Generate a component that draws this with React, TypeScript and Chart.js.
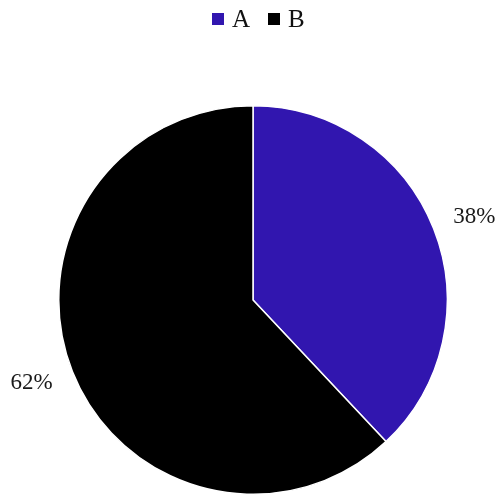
import React, { useEffect, useRef } from "react";
import { Chart, registerables } from "chart.js";

Chart.register(...registerables);

const categories = ["A", "B"];
const values = [38, 62];
const colors = ["#3116af", "#000000"];
const FONT = "'Liberation Serif', 'Times New Roman', Times, serif";

const outsideLabels = {
  id: "outsideLabels",
  afterDatasetsDraw(chart: any) {
    const ctx = chart.ctx;
    const meta = chart.getDatasetMeta(0);
    const total = values.reduce((a, b) => a + b, 0);
    ctx.save();
    ctx.font = `23px ${FONT}`;
    ctx.fillStyle = "#1a1a1a";
    ctx.textAlign = "center";
    ctx.textBaseline = "middle";
    meta.data.forEach((arc: any, i: number) => {
      const mid = (arc.startAngle + arc.endAngle) / 2 + 0.02;
      const r = arc.outerRadius + 42;
      const x = arc.x + Math.cos(mid) * r;
      const y = arc.y + Math.sin(mid) * r;
      ctx.fillText(Math.round((values[i] / total) * 100) + "%", x, y);
    });
    ctx.restore();
  },
};

export default function App() {
  const ref = useRef<HTMLCanvasElement>(null);
  useEffect(() => {
    const chart = new Chart(ref.current!, {
      type: "pie",
      data: {
        labels: categories,
        datasets: [
          {
            data: values,
            backgroundColor: colors,
            borderColor: "#ffffff",
            borderWidth: 1.5,
          },
        ],
      },
      options: {
        animation: false,
        responsive: false,
        layout: { padding: { top: 105, left: 7, right: 0, bottom: 1 } },
        plugins: {
          legend: { display: false },
          tooltip: { enabled: false },
        },
      },
      plugins: [outsideLabels],
    });
    return () => chart.destroy();
  }, []);
  return (
    <div style={{ position: "absolute", left: 0, top: 0, width: 499, height: 496, background: "#fff" }}>
      <canvas ref={ref} width={499} height={496} style={{ display: "block" }} />
      <div
        style={{
          position: "absolute",
          top: 6,
          left: 212,
          display: "flex",
          alignItems: "center",
          fontFamily: FONT,
          fontSize: 25,
          lineHeight: "25px",
          color: "#111",
        }}
      >
        {categories.map((c, i) => (
          <div key={c} style={{ display: "flex", alignItems: "center", marginLeft: i === 0 ? 0 : 18 }}>
            <span style={{ display: "inline-block", width: 12, height: 12, background: colors[i], marginRight: 8 }} />
            <span>{c}</span>
          </div>
        ))}
      </div>
    </div>
  );
}
